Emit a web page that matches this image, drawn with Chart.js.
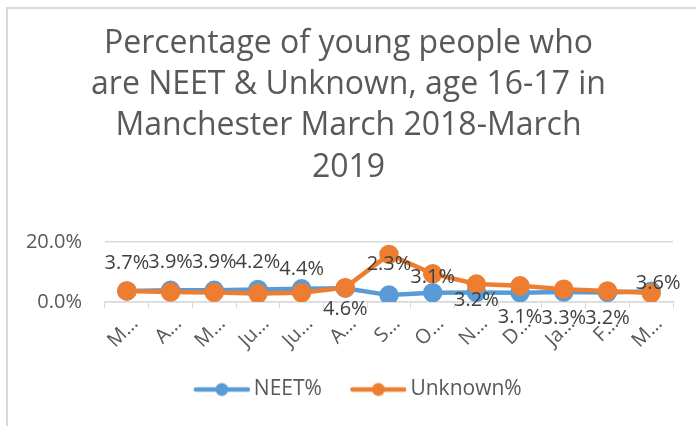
<!DOCTYPE html>
<html>
<head>
<meta charset="utf-8">
<script src="https://cdn.jsdelivr.net/npm/chart.js@4"></script>
<style>
  html, body { margin: 0; padding: 0; background: #fff; }
  #wrap { position: relative; width: 696px; height: 426px; overflow: hidden; }
  #frame { position: absolute; left: 6px; top: 7px; width: 720px; height: 440px;
           border-left: 2px solid #d9d9d9; border-top: 2px solid #d9d9d9; }
  #chart { position: absolute; left: 0; top: 0; }
</style>
</head>
<body>
<div id="wrap">
  <div id="frame"></div>
  <canvas id="chart" width="696" height="426"></canvas>
</div>
<script>
const categories = ["Mar-18", "Apr-18", "May-18", "Jun-18", "Jul-18", "Aug-18", "Sep-18",
                    "Oct-18", "Nov-18", "Dec-18", "Jan-19", "Feb-19", "Mar-19"];
// truncated axis labels as they appear on the chart
const tickLabels = ["M…", "A…", "M…", "Ju…", "Ju…", "A…", "S…", "O…", "N…", "D…", "Ja…", "F…", "M…"];
const neet = [3.7, 3.9, 3.9, 4.2, 4.4, 4.6, 2.3, 3.1, 3.2, 3.1, 3.3, 3.2, 3.6];
const unknown = [3.7, 3.3, 3.2, 2.8, 3.1, 4.8, 15.9, 9.4, 6.0, 5.4, 4.3, 3.7, 3.0];
const yTicks = [0, 20];

const FONT = "'Open Sans', 'Noto Sans', sans-serif";
const BLUE = "#5B9BD5";
const ORANGE = "#ED7D31";

// label nudges (px) for the NEET% data labels, roughly where Excel put them
const labelShift = [[0, -28], [0, -28], [0, -28], [0, -27], [0, -20], [0, 21], [0, -31],
                    [0, -15], [0, 8], [0, 25], [0, 26], [0, 26], [7, -8]];

// legend swatch: line with a marker, blank space on the left to space the items
function legendIcon(color) {
    const c = document.createElement("canvas");
    c.width = 81; c.height = 16;
    const g = c.getContext("2d");
    g.strokeStyle = color; g.lineWidth = 4.5; g.lineCap = "round";
    g.beginPath(); g.moveTo(27, 8); g.lineTo(79, 8); g.stroke();
    g.fillStyle = color;
    g.beginPath(); g.arc(53, 8, 6.5, 0, Math.PI * 2); g.fill();
    return c;
}

const dataLabels = {
    id: "dataLabels",
    afterDatasetsDraw(chart) {
        const ctx = chart.ctx;
        const meta = chart.getDatasetMeta(0);
        ctx.save();
        ctx.font = "20px " + FONT;
        ctx.fillStyle = "#404040";
        ctx.textAlign = "center";
        ctx.textBaseline = "middle";
        meta.data.forEach((pt, i) => {
            const s = labelShift[i];
            ctx.fillText(neet[i].toFixed(1) + "%", pt.x + s[0], pt.y + s[1]);
        });
        ctx.restore();
    }
};

Chart.defaults.font.family = FONT;
Chart.defaults.color = "#595959";

new Chart(document.getElementById("chart"), {
    type: "line",
    data: {
        labels: categories,
        datasets: [
            { label: "NEET%", data: neet, borderColor: BLUE, backgroundColor: BLUE,
              borderWidth: 4.5, pointRadius: 7.5, pointHoverRadius: 7.5, order: 1 },
            { label: "Unknown%", data: unknown, borderColor: ORANGE, backgroundColor: ORANGE,
              borderWidth: 4.5, pointRadius: 7.5, pointHoverRadius: 7.5, order: 0 }
        ]
    },
    options: {
        responsive: false,
        animation: false,
        layout: { padding: { left: 24, right: 23, top: 0, bottom: 16 } },
        plugins: {
            tooltip: { enabled: false },
            title: {
                display: true,
                text: ["Percentage of young people who", "are NEET & Unknown, age 16-17 in",
                       "Manchester March 2018-March", "2019"],
                font: { size: 32, weight: "normal", lineHeight: 1.29 },
                color: "#595959",
                padding: { top: 23, bottom: 54 }
            },
            legend: {
                position: "bottom",
                labels: {
                    usePointStyle: true,
                    pointStyleWidth: 68,
                    padding: 10,
                    font: { size: 21 },
                    color: "#595959",
                    generateLabels(chart) {
                        return chart.data.datasets.map((ds, i) => ({
                            text: ds.label,
                            pointStyle: legendIcon(ds.borderColor),
                            fillStyle: ds.borderColor,
                            strokeStyle: ds.borderColor,
                            lineWidth: 0,
                            fontColor: "#595959",
                            datasetIndex: i
                        }));
                    }
                }
            }
        },
        scales: {
            x: {
                offset: true,
                afterFit: (s) => { s.height = 67; },
                grid: { offset: true, drawOnChartArea: false, drawTicks: true, tickLength: 6, color: "#d9d9d9" },
                border: { color: "#d9d9d9", width: 1.5 },
                ticks: {
                    minRotation: 45, maxRotation: 45, autoSkip: false,
                    font: { size: 20 }, color: "#595959", padding: 4, labelOffset: 8,
                    callback: (v, i) => tickLabels[i]
                }
            },
            y: {
                min: yTicks[0], max: yTicks[yTicks.length - 1],
                afterBuildTicks: (s) => { s.ticks = yTicks.map(v => ({ value: v })); },
                afterFit: (s) => { s.width = 81; },
                grid: { color: "#d9d9d9", lineWidth: 1.5, drawTicks: false },
                border: { display: false },
                ticks: {
                    font: { size: 20 }, color: "#595959", padding: 23,
                    callback: (v) => v.toFixed(1) + "%"
                }
            }
        }
    },
    plugins: [dataLabels]
});
</script>
</body>
</html>
